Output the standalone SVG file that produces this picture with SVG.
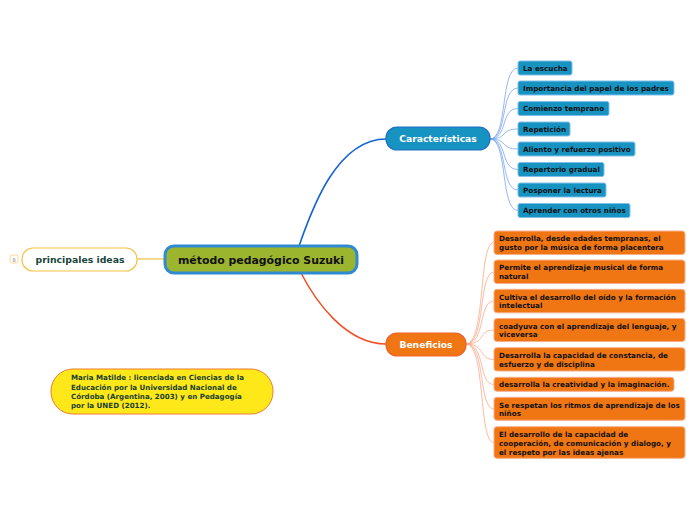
<svg xmlns="http://www.w3.org/2000/svg" width="696" height="520" viewBox="0 0 696 520">
<style>
text{font-family:"DejaVu Sans","Verdana",sans-serif;font-weight:bold}
.sub{font-size:7.2px;fill:#111}
.bs{font-size:7.2px;fill:#111}
.cb{fill:#1793c1;stroke:#7fbfe9;stroke-width:1}
.ob{fill:#f07613;stroke:#f8ad8c;stroke-width:1}
.cl{fill:none;stroke:#7aa6ec;stroke-width:0.8}
.ol{fill:none;stroke:#f9a88c;stroke-width:0.8}
.nt{font-size:7.1px;fill:#17402e}
</style>
<rect width="696" height="520" fill="#fff"/>
<g id="connectors">
<path d="M299,246 C310,215 335,139 386,139" fill="none" stroke="#1662d2" stroke-width="1.6"/>
<path d="M301,273 C315,300 345,344 386,344" fill="none" stroke="#f0522a" stroke-width="1.6"/>
<path d="M137,259 L165,259" fill="none" stroke="#f2c040" stroke-width="1.2"/>
<path class="cl" d="M490,139 C508,139 500,68 518,68"/>
<path class="cl" d="M490,139 C508,139 500,88 518,88"/>
<path class="cl" d="M490,139 C508,139 500,108.5 518,108.5"/>
<path class="cl" d="M490,139 C508,139 500,129 518,129"/>
<path class="cl" d="M490,139 C508,139 500,149 518,149"/>
<path class="cl" d="M490,139 C508,139 500,169.5 518,169.5"/>
<path class="cl" d="M490,139 C508,139 500,190 518,190"/>
<path class="cl" d="M490,139 C508,139 500,210.5 518,210.5"/>
<path class="ol" d="M466,344 C486,344 478,242.5 494,242.5"/>
<path class="ol" d="M466,344 C486,344 478,272 494,272"/>
<path class="ol" d="M466,344 C486,344 478,301 494,301"/>
<path class="ol" d="M466,344 C486,344 478,330 494,330"/>
<path class="ol" d="M466,344 C486,344 478,359.5 494,359.5"/>
<path class="ol" d="M466,344 C486,344 478,384.5 494,384.5"/>
<path class="ol" d="M466,344 C486,344 478,409 494,409"/>
<path class="ol" d="M466,344 C486,344 478,442.5 494,442.5"/>
</g>
<g id="central">
<rect x="165" y="246" width="192" height="27" rx="9" fill="#9cb52e" stroke="#2f8ad0" stroke-width="3"/>
<text x="261" y="264" text-anchor="middle" font-size="10.9" fill="#111">método pedagógico Suzuki</text>
</g>
<g id="principales">
<rect x="10" y="255" width="8" height="8" rx="2" fill="#fff" stroke="#f5d27a" stroke-width="0.8"/>
<text x="14" y="261.5" text-anchor="middle" style="font-size:5px;fill:#777;font-weight:normal">8</text>
<rect x="22" y="248" width="115" height="23" rx="11" fill="#fff" stroke="#f5c242" stroke-width="1.2"/>
<text x="80" y="262.8" text-anchor="middle" font-size="9.3" fill="#17453a">principales ideas</text>
</g>
<g id="caracteristicas">
<rect x="386" y="127" width="104" height="23" rx="11" fill="#1793c1" stroke="#1f6fc6" stroke-width="1.2"/>
<text x="438" y="142.3" text-anchor="middle" font-size="9.2" fill="#fff">Características</text>
</g>
<g id="c1"><rect class="cb" x="518" y="61" width="54" height="14" rx="2"/><text class="sub" x="523" y="70.6">La escucha</text></g>
<g id="c2"><rect class="cb" x="518" y="81" width="156" height="14" rx="2"/><text class="sub" x="523" y="90.6">Importancia del papel de los padres</text></g>
<g id="c3"><rect class="cb" x="518" y="101.5" width="91" height="14" rx="2"/><text class="sub" x="523" y="111.1">Comienzo temprano</text></g>
<g id="c4"><rect class="cb" x="518" y="122" width="52" height="14" rx="2"/><text class="sub" x="523" y="131.6">Repetición</text></g>
<g id="c5"><rect class="cb" x="518" y="142" width="117" height="14" rx="2"/><text class="sub" x="523" y="151.6">Aliento y refuerzo positivo</text></g>
<g id="c6"><rect class="cb" x="518" y="162.5" width="86" height="14" rx="2"/><text class="sub" x="523" y="172.1">Repertorio gradual</text></g>
<g id="c7"><rect class="cb" x="518" y="183" width="88" height="14" rx="2"/><text class="sub" x="523" y="192.6">Posponer la lectura</text></g>
<g id="c8"><rect class="cb" x="518" y="203.5" width="112" height="14" rx="2"/><text class="sub" x="523" y="213.1">Aprender con otros niños</text></g>
<g id="beneficios">
<rect x="386" y="333" width="80" height="23" rx="11" fill="#f07613" stroke="#f0602a" stroke-width="1.2"/>
<text x="426" y="348.3" text-anchor="middle" font-size="9.2" fill="#fff">Beneficios</text>
</g>
<g id="b1"><rect class="ob" x="494" y="231" width="191" height="23.5" rx="3"/><text class="bs" x="499" y="241.2">Desarrolla, desde edades tempranas, el</text><text class="bs" x="499" y="249.9">gusto por la música de forma placentera</text></g>
<g id="b2"><rect class="ob" x="494" y="260" width="191" height="23.5" rx="3"/><text class="bs" x="499" y="270.2">Permite el aprendizaje musical de forma</text><text class="bs" x="499" y="278.9">natural</text></g>
<g id="b3"><rect class="ob" x="494" y="289.3" width="191" height="23.5" rx="3"/><text class="bs" x="499" y="299.5">Cultiva el desarrollo del oído y la formación</text><text class="bs" x="499" y="308.2">intelectual</text></g>
<g id="b4"><rect class="ob" x="494" y="318.5" width="191" height="23" rx="3"/><text class="bs" x="499" y="328.7">coadyuva con el aprendizaje del lenguaje,  y</text><text class="bs" x="499" y="337.4">viceversa</text></g>
<g id="b5"><rect class="ob" x="494" y="347.7" width="191" height="23.3" rx="3"/><text class="bs" x="499" y="357.9">Desarrolla la capacidad de constancia, de</text><text class="bs" x="499" y="366.6">esfuerzo y de disciplina</text></g>
<g id="b6"><rect class="ob" x="494" y="377.3" width="180" height="14" rx="3"/><text class="bs" x="499" y="386.9">desarrolla la creatividad y la imaginación.</text></g>
<g id="b7"><rect class="ob" x="494" y="397.3" width="191" height="23" rx="3"/><text class="bs" x="499" y="407.5">Se respetan los ritmos de aprendizaje de los</text><text class="bs" x="499" y="416.2">niños</text></g>
<g id="b8"><rect class="ob" x="494" y="426.7" width="191" height="31.6" rx="3"/><text class="bs" x="499" y="437.2">El desarrollo de la capacidad de</text><text class="bs" x="499" y="445.9">cooperación, de comunicación y dialogo, y</text><text class="bs" x="499" y="454.6">el respeto por las ideas ajenas</text></g>
<g id="nota">
<rect x="51" y="369" width="222" height="45" rx="22" fill="#ffe81a" stroke="#f07a30" stroke-width="1"/>
<text class="nt" x="71" y="380.2">Maria Matilde : licenciada en Ciencias de la</text>
<text class="nt" x="71" y="389.5">Educación por la Universidad Nacional de</text>
<text class="nt" x="71" y="398.8">Córdoba (Argentina, 2003) y en Pedagogía</text>
<text class="nt" x="71" y="408.1">por la UNED (2012).</text>
</g>
</svg>
